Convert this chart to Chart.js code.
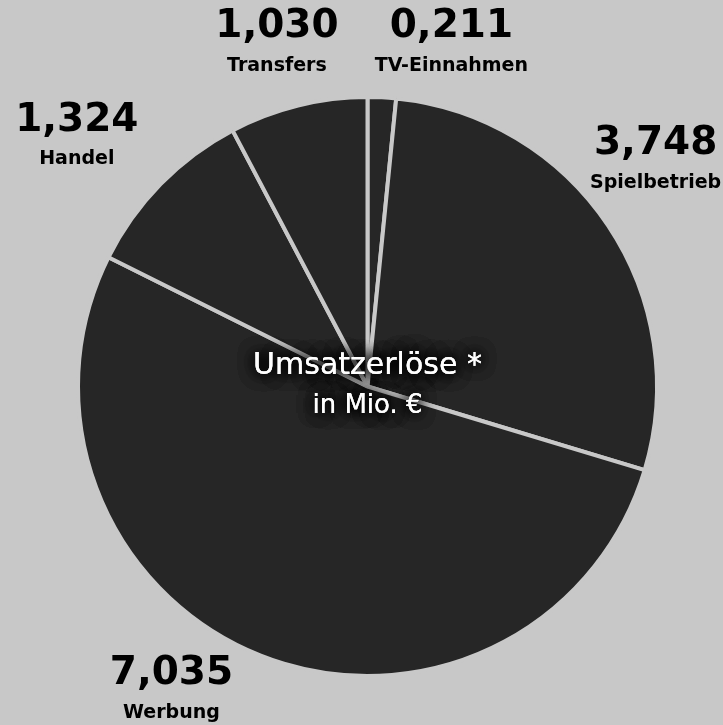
<!DOCTYPE html>
<html>
<head>
<meta charset="utf-8">
<script src="https://cdn.jsdelivr.net/npm/chart.js@4/dist/chart.umd.min.js"></script>
<style>
  html, body { margin: 0; padding: 0; background: #c8c8c8; }
  canvas { display: block; }
</style>
</head>
<body>
<canvas id="umsatzChart" width="723" height="725"></canvas>
<script>
// Umsatzerlöse in Mio. €, clockwise from the top
const labels = ['TV-Einnahmen', 'Spielbetrieb', 'Werbung', 'Handel', 'Transfers'];
const values = [0.211, 3.748, 7.035, 1.324, 1.030];

// label placement around the pie: angle nudge (deg) and distance beyond the radius
const labelNudge = [11, -4, 11, -4, -1];
const labelGap = [61, 75, 74, 92, 63];

function fmt(v) {
    return v.toFixed(3).replace('.', ',');
}

const outerLabels = {
    id: 'outerLabels',
    afterDraw(chart) {
        const ctx = chart.ctx;
        const arcs = chart.getDatasetMeta(0).data;
        ctx.save();
        ctx.fillStyle = '#000';
        ctx.textAlign = 'center';
        ctx.textBaseline = 'middle';
        arcs.forEach((arc, i) => {
            const a = (arc.startAngle + arc.endAngle) / 2 + labelNudge[i] * Math.PI / 180;
            const d = arc.outerRadius + labelGap[i];
            const x = arc.x + Math.cos(a) * d;
            const y = arc.y + Math.sin(a) * d;
            ctx.font = 'bold 39px "DejaVu Sans"';
            ctx.fillText(fmt(values[i]), x, y - 19);
            ctx.font = 'bold 19px "DejaVu Sans"';
            ctx.fillText(labels[i], x, y + 20);
        });
        ctx.restore();
    }
};

const centerText = {
    id: 'centerText',
    afterDraw(chart) {
        const ctx = chart.ctx;
        const arc = chart.getDatasetMeta(0).data[0];
        ctx.save();
        ctx.textAlign = 'center';
        ctx.textBaseline = 'middle';
        ctx.fillStyle = '#fff';
        ctx.shadowColor = '#000';
        ctx.shadowBlur = 16;
        for (let k = 0; k < 4; k++) {
            ctx.font = '30px "DejaVu Sans"';
            ctx.fillText('Umsatzerlöse *', arc.x, arc.y - 20);
            ctx.font = '26px "DejaVu Sans"';
            ctx.fillText('in Mio. €', arc.x, arc.y + 20);
        }
        ctx.restore();
    }
};

new Chart(document.getElementById('umsatzChart'), {
    type: 'pie',
    data: {
        labels: labels,
        datasets: [{
            data: values,
            backgroundColor: '#262626',
            borderColor: '#c8c8c8',
            borderWidth: 4
        }]
    },
    options: {
        responsive: false,
        animation: false,
        layout: {
            padding: { top: 94, bottom: 46, left: 76, right: 64 }
        },
        plugins: {
            legend: { display: false },
            tooltip: { enabled: false }
        }
    },
    plugins: [outerLabels, centerText]
});
</script>
</body>
</html>
